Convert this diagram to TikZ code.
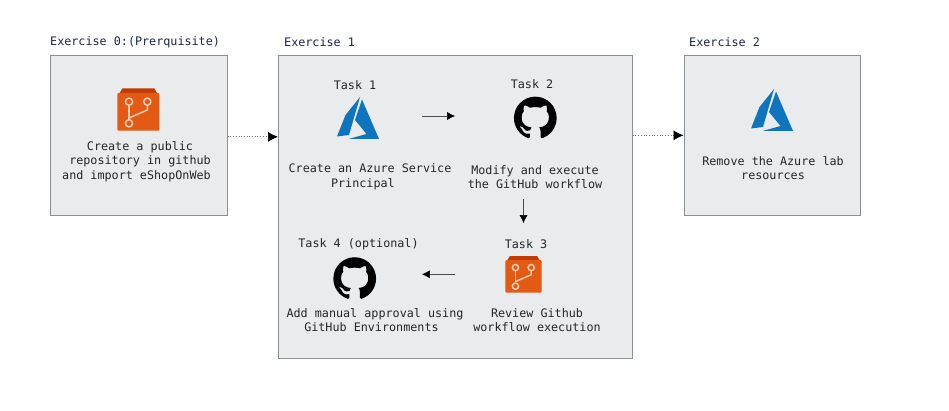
\documentclass[tikz,border=0pt]{standalone}
\usepackage{fontspec}
\setmonofont{DejaVu Sans Mono}
\usetikzlibrary{arrows.meta,svg.path}
\definecolor{boxgrey}{HTML}{E9EBED}
\definecolor{boxline}{HTML}{8C8F91}
\definecolor{titleblue}{HTML}{1B2350}
\definecolor{azureblue}{HTML}{0F74BE}
\definecolor{repoorange}{HTML}{E25A14}
\definecolor{repodark}{HTML}{C23B06}
\definecolor{repolight}{HTML}{F8CDB4}
\tikzset{
    exbox/.style={draw=boxline, fill=boxgrey, line width=0.7pt, anchor=north west, inner sep=0pt},
    extitle/.style={anchor=west, inner sep=0pt, text=titleblue, font=\ttfamily\fontsize{11.75}{14.5}\selectfont},
    tasktext/.style={align=center, inner sep=0pt, text=black!85, font=\ttfamily\fontsize{11.75}{14.5}\selectfont},
    iconspot/.style={minimum size=#1, inner sep=0pt},
    taskarrow/.style={draw=black!70, line width=0.6pt, -{Latex[black,length=8pt,width=8pt]}},
    exarrow/.style={draw=black!55, dotted, line width=0.7pt, -{Latex[black,length=10pt,width=10pt]}},
    azureicon/.pic={
        \fill[azureblue] (2,-21) -- (-12.5,-3) -- (-21,18.5) -- (-9,17) -- cycle;
        \fill[azureblue] (4,-18.5) -- (-3,2) -- (8.5,16) -- (-9.5,21) -- (21,21) -- cycle;
    },
    repoicon/.pic={
        \fill[repodark] (-16,-21) -- (16,-21) -- (19,-16) -- (-19,-16) -- cycle;
        \fill[repoorange, rounded corners=1pt] (-21,-16.5) -- (21,-16.5) -- (21,21.2) -- (-21,21.2) -- cycle;
        \draw[repolight, line width=1.5pt] (-9.3,-4) -- (-9.3,10.5);
        \draw[repolight, line width=1.5pt] (-9.3,8.5) -- (9,0.5) -- (9,-4);
        \draw[repolight, line width=1.5pt] (-9.3,-7.8) circle (3.6);
        \draw[repolight, line width=1.5pt] (9,-7.8) circle (3.6);
        \draw[repolight, line width=1.5pt] (-9.3,13.8) circle (3.6);
    },
    gitcat/.pic={
        \fill[black, scale=1.78, yscale=-1, shift={(-12pt,-12.3pt)}] svg {M 12 0.297 c -6.63 0 -12 5.373 -12 12 c 0 5.303 3.438 9.8 8.205 11.385 c 0.6 0.113 0.82 -0.258 0.82 -0.577 c 0 -0.285 -0.01 -1.04 -0.015 -2.04 c -3.338 0.724 -4.042 -1.61 -4.042 -1.61 C 4.422 18.07 3.633 17.7 3.633 17.7 c -1.087 -0.744 0.084 -0.729 0.084 -0.729 c 1.205 0.084 1.838 1.236 1.838 1.236 c 1.07 1.835 2.809 1.305 3.495 0.998 c 0.108 -0.776 0.417 -1.305 0.76 -1.605 c -2.665 -0.3 -5.466 -1.332 -5.466 -5.93 c 0 -1.31 0.465 -2.38 1.235 -3.22 c -0.135 -0.303 -0.54 -1.523 0.105 -3.176 c 0 0 1.005 -0.322 3.3 1.23 c 0.96 -0.267 1.98 -0.399 3 -0.405 c 1.02 0.006 2.04 0.138 3 0.405 c 2.28 -1.552 3.285 -1.23 3.285 -1.23 c 0.645 1.653 0.24 2.873 0.12 3.176 c 0.765 0.84 1.23 1.91 1.23 3.22 c 0 4.61 -2.805 5.625 -5.475 5.92 c 0.42 0.36 0.81 1.096 0.81 2.22 c 0 1.606 -0.015 2.896 -0.015 3.286 c 0 0.315 0.21 0.69 0.825 0.57 C 20.565 22.092 24 17.592 24 12.297 c 0 -6.627 -5.373 -12 -12 -12 Z};
    },
}
\begin{document}
\begin{tikzpicture}[x=1pt, y=-1pt]
    \useasboundingbox (0,0) rectangle (949,411);

    % exercise boxes
    \node[exbox, minimum width=177pt, minimum height=160pt] (boxzero) at (50,55) {};
    \node[exbox, minimum width=354pt, minimum height=303pt] (boxone) at (278,55) {};
    \node[exbox, minimum width=176.5pt, minimum height=160pt] (boxtwo) at (683.5,55) {};

    \node[extitle] (titlezero) at (50,42) {Exercise 0:(Prerquisite)};
    \node[extitle] (titleone) at (284,42) {Exercise 1};
    \node[extitle] (titletwo) at (689,42) {Exercise 2};

    % icons
    \node[iconspot=42pt] (repozero) at (138.3,109.5) {};
    \node[iconspot=42pt] (azureone) at (358,118) {};
    \node[iconspot=42pt] (gittwo) at (535.3,118) {};
    \node[iconspot=36pt] (repothree) at (523.5,274.3) {};
    \node[iconspot=42pt] (gitfour) at (354.7,278.6) {};
    \node[iconspot=42pt] (azurefive) at (772,110) {};
    \pic at (repozero) {repoicon};
    \pic at (azureone) {azureicon};
    \pic at (gittwo) {gitcat};
    \pic[scale=0.86] at (repothree) {repoicon};
    \pic at (gitfour) {gitcat};
    \pic at (azurefive) {azureicon};

    % texts
    \node[tasktext] (textzero) at (140,161.5) {Create a public\\repository in github\\and import eShopOnWeb\hphantom{x}};
    \node[tasktext] (headone) at (355,85) {Task 1};
    \node[tasktext] (textone) at (370,177) {Create an Azure Service\\Principal\hphantom{xx}};
    \node[tasktext] (headtwo) at (532,84) {Task 2};
    \node[tasktext] (texttwo) at (535,177) {Modify and execute\\the GitHub workflow};
    \node[tasktext] (headthree) at (526,244) {Task 3};
    \node[tasktext] (textthree) at (537,320) {Review Github\\workflow execution};
    \node[tasktext] (headfour) at (358.5,244) {Task 4 (optional)};
    \node[tasktext] (textfour) at (375,320) {Add manual approval using\\GitHub Environments\hphantom{x}};
    \node[tasktext] (textfive) at (773,168) {Remove the Azure lab\\resources};

    % arrows
    \draw[exarrow] ([yshift=-1.5pt]boxzero.east) -- ([yshift=-1.5pt]boxzero.east -| boxone.west);
    \draw[exarrow] (boxone.east |- boxtwo.east) -- (boxtwo.west);
    \draw[taskarrow, shorten <=43pt, shorten >=59pt] ([yshift=2pt]azureone.east) -- ([yshift=2pt]gittwo.west);
    \draw[taskarrow, shorten <=60pt, shorten >=33pt] (repothree |- gittwo.south) -- (repothree.north);
    \draw[taskarrow, shorten <=50pt, shorten >=46pt] (repothree.west) -- (repothree.west -| gitfour.east);
\end{tikzpicture}
\end{document}
